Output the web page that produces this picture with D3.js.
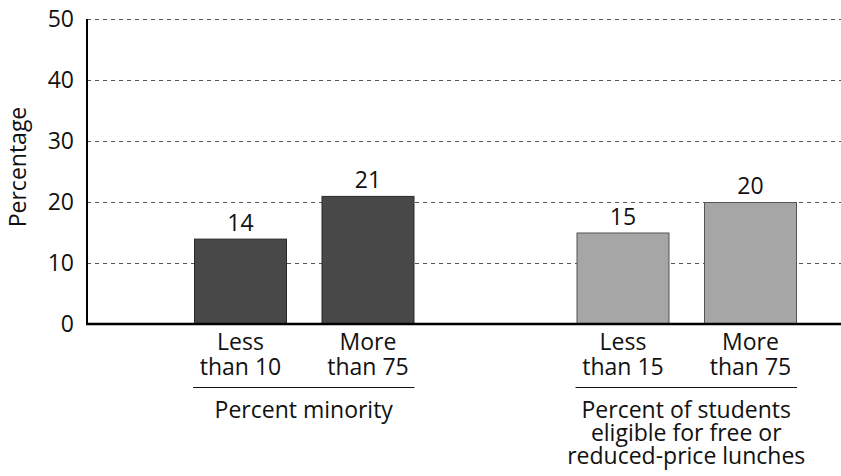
<!DOCTYPE html>
<html><head><meta charset="utf-8">
<script src="https://cdn.jsdelivr.net/npm/d3@7"></script>
<style>body{margin:0;background:#fff}svg{display:block}text{font-family:"Open Sans",sans-serif;fill:#111}</style>
</head><body><svg id="c" width="841" height="476"></svg>
<script>
const categories = [
  ["Less", "than 10"],
  ["More", "than 75"],
  ["Less", "than 15"],
  ["More", "than 75"]
];
const values = [14, 21, 15, 20];
const groupOf = [0, 0, 1, 1];
const groupLabels = [["Percent minority"], ["Percent of students", "eligible for free or", "reduced-price lunches"]];
const yTicks = [0, 10, 20, 30, 40, 50];
const colors = ["#484848", "#a6a6a6"];
const strokes = ["#2a2a2a", "#555555"];

const svg = d3.select("#c");
const fs = 23;
const slots = ["c0", "c1", "gap", "c2", "c3"];
const slotOf = i => ["c0", "c1", "c2", "c3"][i];
const x = d3.scaleBand().domain(slots).range([194, 797]).paddingInner(0.2706).paddingOuter(0);
const y = d3.scaleLinear().domain([0, 50]).range([324, 19]);
const x0 = 87, x1 = 841;

// gridlines
svg.append("g").selectAll("line").data(yTicks.filter(d => d > 0)).join("line")
  .attr("x1", x0).attr("x2", x1).attr("y1", d => y(d)).attr("y2", d => y(d))
  .attr("stroke", "#555").attr("stroke-width", 1).attr("stroke-dasharray", "4,4").attr("shape-rendering", "crispEdges");

// y axis
const yAxis = d3.axisLeft(y).tickValues(yTicks).tickSize(0).tickPadding(13);
const ga = svg.append("g").attr("transform", `translate(${x0},0)`).call(yAxis);
ga.select(".domain").remove();
ga.selectAll("text").style("font-size", fs + "px").style("font-family", '"Open Sans",sans-serif').attr("fill", "#111");

// bars
svg.append("g").selectAll("rect").data(values).join("rect")
  .attr("x", (d, i) => x(slotOf(i)) + 0.5)
  .attr("width", x.bandwidth() - 1)
  .attr("y", d => y(d) + 0.5)
  .attr("height", d => y(0) - y(d))
  .attr("fill", (d, i) => colors[groupOf[i]])
  .attr("stroke", (d, i) => strokes[groupOf[i]]).attr("stroke-width", 1);

// value labels
svg.append("g").selectAll("text").data(values).join("text")
  .attr("x", (d, i) => x(slotOf(i)) + x.bandwidth() / 2)
  .attr("y", d => y(d) - 8)
  .attr("text-anchor", "middle").style("font-size", fs + "px").text(d => d);

// axes lines
svg.append("line").attr("x1", x0).attr("x2", x0).attr("y1", y(50)).attr("y2", y(0) + 1)
  .attr("stroke", "#000").attr("stroke-width", 2);
svg.append("line").attr("x1", x0 - 1).attr("x2", x1).attr("y1", y(0)).attr("y2", y(0))
  .attr("stroke", "#000").attr("stroke-width", 2.5);

// category labels
categories.forEach((lines, i) => {
  const t = svg.append("text").attr("text-anchor", "middle").style("font-size", fs + "px")
    .attr("x", x(slotOf(i)) + x.bandwidth() / 2).attr("y", 350);
  lines.forEach((l, j) => t.append("tspan").attr("x", x(slotOf(i)) + x.bandwidth() / 2).attr("dy", j ? 24.5 : 0).text(l));
});

// group underline + labels
groupLabels.forEach((lines, g) => {
  const idx = groupOf.map((v, i) => v === g ? i : -1).filter(i => i >= 0);
  const a = x(slotOf(idx[0])) - 1, b = x(slotOf(idx[idx.length - 1])) + x.bandwidth();
  svg.append("line").attr("x1", a).attr("x2", b).attr("y1", 387.5).attr("y2", 387.5).attr("stroke", "#111").attr("stroke-width", 1);
  const t = svg.append("text").attr("text-anchor", "middle").style("font-size", fs + "px").attr("y", 418);
  lines.forEach((l, j) => t.append("tspan").attr("x", (a + b) / 2).attr("dy", j ? 23 : 0).text(l));
});

// y title
svg.append("text").attr("transform", "translate(26,167) rotate(-90)").attr("text-anchor", "middle")
  .style("font-size", fs + "px").text("Percentage");
</script></body></html>
